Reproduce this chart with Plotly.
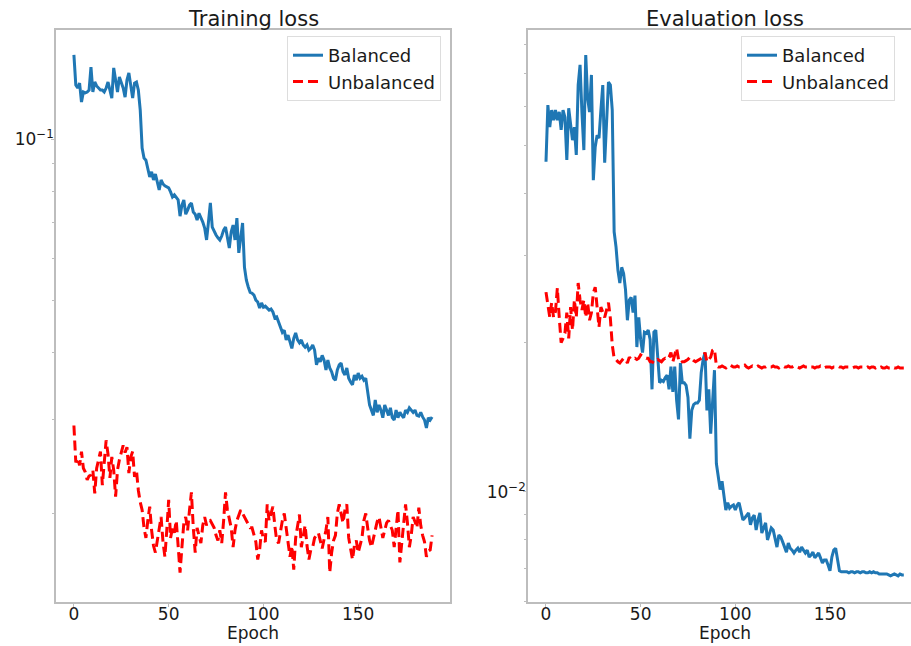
import plotly.graph_objects as go

epochs = list(range(190))

train_balanced = [
    0.1439, 0.1264, 0.1248, 0.1275, 0.1175, 0.1227, 0.1222, 0.1227, 0.1237, 0.1366,
    0.1227, 0.1281, 0.1259, 0.1248, 0.1237, 0.1237, 0.1227, 0.1248, 0.1281, 0.1237,
    0.1195, 0.1361, 0.1303, 0.1227, 0.1309, 0.1281, 0.1248, 0.1200, 0.1292, 0.1332,
    0.1259, 0.1195, 0.1275, 0.1281, 0.1237, 0.1135, 0.0964, 0.0923, 0.0915, 0.0885,
    0.0851, 0.0870, 0.0840, 0.0862, 0.0833, 0.0805, 0.0840, 0.0826, 0.0819, 0.0815,
    0.0812, 0.0798, 0.0781, 0.0788, 0.0778, 0.0771, 0.0719, 0.0754, 0.0771, 0.0725,
    0.0738, 0.0754, 0.0761, 0.0732, 0.0725, 0.0707, 0.0728, 0.0716, 0.0701, 0.0683,
    0.0649, 0.0701, 0.0761, 0.0686, 0.0672, 0.0663, 0.0655, 0.0649, 0.0660, 0.0677,
    0.0686, 0.0649, 0.0627, 0.0672, 0.0692, 0.0649, 0.0713, 0.0614, 0.0655, 0.0698,
    0.0577, 0.0546, 0.0530, 0.0518, 0.0516, 0.0512, 0.0501, 0.0497, 0.0484, 0.0495,
    0.0486, 0.0488, 0.0484, 0.0480, 0.0482, 0.0476, 0.0464, 0.0466, 0.0456, 0.0444,
    0.0436, 0.0440, 0.0422, 0.0431, 0.0418, 0.0407, 0.0425, 0.0435, 0.0422, 0.0417,
    0.0422, 0.0413, 0.0409, 0.0413, 0.0404, 0.0407, 0.0413, 0.0404, 0.0379, 0.0390,
    0.0384, 0.0395, 0.0387, 0.0371, 0.0387, 0.0374, 0.0368, 0.0358, 0.0355, 0.0371,
    0.0379, 0.0382, 0.0368, 0.0363, 0.0374, 0.0358, 0.0352, 0.0348, 0.0363, 0.0355,
    0.0366, 0.0358, 0.0361, 0.0355, 0.0358, 0.0340, 0.0319, 0.0312, 0.0305, 0.0326,
    0.0309, 0.0319, 0.0312, 0.0302, 0.0319, 0.0312, 0.0305, 0.0315, 0.0302, 0.0299,
    0.0312, 0.0302, 0.0309, 0.0305, 0.0302, 0.0312, 0.0309, 0.0315, 0.0312, 0.0309,
    0.0312, 0.0305, 0.0304, 0.0309, 0.0303, 0.0299, 0.0289, 0.0302, 0.0299, 0.0303,
]

train_unbalanced = [
    0.0292, 0.0249, 0.0254, 0.0246, 0.0261, 0.0243, 0.0239, 0.0231, 0.0235, 0.0236,
    0.0241, 0.0218, 0.0243, 0.0254, 0.0261, 0.0226, 0.0249, 0.0274, 0.0258, 0.0233,
    0.0255, 0.0241, 0.0215, 0.0241, 0.0252, 0.0261, 0.0268, 0.0260, 0.0266, 0.0238,
    0.0255, 0.0261, 0.0234, 0.0241, 0.0221, 0.0210, 0.0203, 0.0188, 0.0180, 0.0194,
    0.0206, 0.0186, 0.0174, 0.0169, 0.0178, 0.0184, 0.0197, 0.0177, 0.0166, 0.0186,
    0.0212, 0.0180, 0.0188, 0.0184, 0.0194, 0.0174, 0.0155, 0.0173, 0.0192, 0.0197,
    0.0186, 0.0203, 0.0219, 0.0188, 0.0169, 0.0188, 0.0182, 0.0176, 0.0190, 0.0197,
    0.0190, 0.0193, 0.0194, 0.0191, 0.0188, 0.0182, 0.0178, 0.0186, 0.0176, 0.0194,
    0.0219, 0.0203, 0.0194, 0.0188, 0.0173, 0.0186, 0.0194, 0.0199, 0.0203, 0.0200,
    0.0197, 0.0194, 0.0191, 0.0188, 0.0188, 0.0182, 0.0177, 0.0164, 0.0171, 0.0186,
    0.0179, 0.0177, 0.0208, 0.0194, 0.0200, 0.0206, 0.0190, 0.0178, 0.0176, 0.0186,
    0.0194, 0.0200, 0.0188, 0.0178, 0.0166, 0.0174, 0.0157, 0.0180, 0.0190, 0.0199,
    0.0173, 0.0182, 0.0190, 0.0174, 0.0164, 0.0171, 0.0173, 0.0180, 0.0182, 0.0184,
    0.0178, 0.0172, 0.0179, 0.0186, 0.0197, 0.0155, 0.0169, 0.0178, 0.0182, 0.0200,
    0.0208, 0.0199, 0.0192, 0.0203, 0.0208, 0.0180, 0.0172, 0.0164, 0.0174, 0.0178,
    0.0169, 0.0174, 0.0180, 0.0194, 0.0200, 0.0188, 0.0178, 0.0173, 0.0180, 0.0188,
    0.0193, 0.0197, 0.0188, 0.0180, 0.0186, 0.0192, 0.0194, 0.0190, 0.0186, 0.0173,
    0.0188, 0.0203, 0.0162, 0.0176, 0.0194, 0.0208, 0.0192, 0.0173, 0.0182, 0.0197,
    0.0193, 0.0188, 0.0205, 0.0190, 0.0182, 0.0177, 0.0166, 0.0170, 0.0171, 0.0182,
]

eval_balanced = [
    0.0464, 0.0604, 0.0545, 0.0590, 0.0563, 0.0590, 0.0563, 0.0585, 0.0538, 0.0590,
    0.0571, 0.0468, 0.0595, 0.0550, 0.0513, 0.0545, 0.0479, 0.0663, 0.0728, 0.0582,
    0.0490, 0.0762, 0.0624, 0.0585, 0.0695, 0.0426, 0.0497, 0.0525, 0.0518, 0.0590,
    0.0663, 0.0462, 0.0555, 0.0672, 0.0663, 0.0590, 0.0335, 0.0312, 0.0280, 0.0264,
    0.0284, 0.0276, 0.0256, 0.0222, 0.0244, 0.0247, 0.0230, 0.0249, 0.0196, 0.0225,
    0.0203, 0.0191, 0.0210, 0.0209, 0.0212, 0.0203, 0.0161, 0.0210, 0.0212, 0.0191,
    0.0166, 0.0168, 0.0167, 0.0170, 0.0172, 0.0161, 0.0179, 0.0159, 0.0179, 0.0153,
    0.0140, 0.0182, 0.0166, 0.0166, 0.0164, 0.0155, 0.0128, 0.0146, 0.0150, 0.0151,
    0.0151, 0.0153, 0.0174, 0.0185, 0.0191, 0.0146, 0.0161, 0.0131, 0.0155, 0.0176,
    0.0114, 0.0107, 0.0101, 0.0105, 0.00985, 0.00918, 0.00950, 0.00926, 0.00935, 0.00940,
    0.00918, 0.00940, 0.00950, 0.00918, 0.00877, 0.00885, 0.00897, 0.00906, 0.00857, 0.00885,
    0.00897, 0.00837, 0.00877, 0.00906, 0.00825, 0.00845, 0.00865, 0.00799, 0.00818, 0.00845,
    0.00837, 0.00799, 0.00773, 0.00818, 0.00810, 0.00792, 0.00773, 0.00755, 0.00788, 0.00769,
    0.00762, 0.00752, 0.00762, 0.00769, 0.00755, 0.00773, 0.00762, 0.00752, 0.00762, 0.00738,
    0.00745, 0.00755, 0.00735, 0.00745, 0.00752, 0.00735, 0.00718, 0.00728, 0.00728, 0.00711,
    0.00692, 0.00738, 0.00762, 0.00769, 0.00728, 0.00692, 0.00689, 0.00689, 0.00689, 0.00689,
    0.00686, 0.00689, 0.00689, 0.00686, 0.00689, 0.00689, 0.00686, 0.00689, 0.00689, 0.00686,
    0.00686, 0.00689, 0.00686, 0.00689, 0.00686, 0.00686, 0.00682, 0.00682, 0.00682, 0.00682,
    0.00682, 0.00679, 0.00676, 0.00679, 0.00682, 0.00679, 0.00676, 0.00682, 0.00679, 0.00679,
]

eval_unbalanced = [
    0.0253, 0.0236, 0.0225, 0.0241, 0.0225, 0.0231, 0.0258, 0.0225, 0.0200, 0.0204,
    0.0209, 0.0230, 0.0204, 0.0236, 0.0212, 0.0244, 0.0225, 0.0264, 0.0244, 0.0233,
    0.0244, 0.0225, 0.0241, 0.0222, 0.0230, 0.0252, 0.0259, 0.0236, 0.0215, 0.0236,
    0.0230, 0.0225, 0.0233, 0.0241, 0.0224, 0.0198, 0.0186, 0.0185, 0.0183, 0.0182,
    0.0184, 0.0186, 0.0185, 0.0182, 0.0187, 0.0185, 0.0185, 0.0186, 0.0185, 0.0186,
    0.0189, 0.0188, 0.0187, 0.0186, 0.0186, 0.0183, 0.0183, 0.0182, 0.0184, 0.0185,
    0.0184, 0.0183, 0.0185, 0.0186, 0.0185, 0.0187, 0.0191, 0.0183, 0.0189, 0.0195,
    0.0185, 0.0182, 0.0183, 0.0183, 0.0184, 0.0185, 0.0187, 0.0185, 0.0184, 0.0183,
    0.0184, 0.0185, 0.0186, 0.0187, 0.0191, 0.0183, 0.0185, 0.0187, 0.0193, 0.0194,
    0.01795, 0.01786, 0.01786, 0.01795, 0.01786, 0.01778, 0.01795, 0.01803, 0.01795, 0.01786,
    0.01786, 0.01795, 0.01786, 0.01786, 0.01795, 0.01803, 0.01786, 0.01778, 0.01786, 0.01795,
    0.01786, 0.01786, 0.01795, 0.01786, 0.01778, 0.01786, 0.01786, 0.01795, 0.01786, 0.01786,
    0.01795, 0.01786, 0.01786, 0.01778, 0.01786, 0.01795, 0.01786, 0.01786, 0.01795, 0.01786,
    0.01786, 0.01795, 0.01786, 0.01786, 0.01778, 0.01786, 0.01795, 0.01786, 0.01786, 0.01795,
    0.01786, 0.01786, 0.01778, 0.01786, 0.01786, 0.01795, 0.01786, 0.01778, 0.01786, 0.01786,
    0.01786, 0.01778, 0.01786, 0.01786, 0.01795, 0.01786, 0.01786, 0.01778, 0.01786, 0.01786,
    0.01786, 0.01786, 0.01778, 0.01786, 0.01786, 0.01778, 0.01786, 0.01786, 0.01786, 0.01778,
    0.01786, 0.01778, 0.01786, 0.01786, 0.01778, 0.01786, 0.01778, 0.01786, 0.01778, 0.01778,
    0.01786, 0.01778, 0.01778, 0.01786, 0.01778, 0.01778, 0.01786, 0.01778, 0.01778, 0.01778,
]

x_ticks = [0, 50, 100, 150]
left_minor = [0.02, 0.03, 0.04, 0.05, 0.06, 0.07, 0.08, 0.09]
right_minor = [0.006, 0.007, 0.008, 0.009, 0.02, 0.03, 0.04, 0.05, 0.06, 0.07, 0.08]

BLUE = "#1f77b4"
RED = "#ff0000"
SPINE = "#bdbdbd"
TXT = "#1a1a1a"
FONT = "DejaVu Sans"
W, H = 911, 646

fig = go.Figure()
fig.add_trace(go.Scatter(x=epochs, y=train_balanced, mode="lines", name="Balanced",
                         line=dict(color=BLUE, width=3), xaxis="x", yaxis="y", legend="legend"))
fig.add_trace(go.Scatter(x=epochs, y=train_unbalanced, mode="lines", name="Unbalanced",
                         line=dict(color=RED, width=3, dash="10px,5px"), xaxis="x", yaxis="y",
                         legend="legend"))
fig.add_trace(go.Scatter(x=epochs, y=eval_balanced, mode="lines", name="Balanced",
                         line=dict(color=BLUE, width=3), xaxis="x2", yaxis="y2", legend="legend2"))
fig.add_trace(go.Scatter(x=epochs, y=eval_unbalanced, mode="lines", name="Unbalanced",
                         line=dict(color=RED, width=3, dash="10px,5px"), xaxis="x2", yaxis="y2",
                         legend="legend2"))

ydom = [1 - 602 / H, 1 - 30 / H]

def xaxis_cfg(domain, rng):
    return dict(domain=domain, range=rng, tickmode="array", tickvals=x_ticks,
                showline=True, mirror=True, linecolor=SPINE, linewidth=1.5,
                ticks="outside", ticklen=3, tickcolor=SPINE, tickwidth=1,
                ticklabelstandoff=-7,
                tickfont=dict(size=17, color=TXT, family=FONT),
                showgrid=False, zeroline=False)

def yaxis_cfg(rng, anchor, major, label, minor_vals, mirror):
    return dict(type="log", domain=ydom, range=rng, anchor=anchor,
                tickmode="array", tickvals=[major], ticktext=[label],
                showline=True, mirror=mirror, linecolor=SPINE, linewidth=1.5,
                ticks="outside", ticklen=3, tickcolor=SPINE,
                ticklabelstandoff=-6,
                tickfont=dict(size=17, color=TXT, family=FONT),
                minor=dict(tickmode="array", tickvals=minor_vals, ticks="outside",
                           ticklen=2, tickcolor=SPINE, showgrid=False),
                showgrid=False, zeroline=False)

legend_common = dict(y=1 - 36 / H, yanchor="top", bgcolor="rgba(255,255,255,0.85)",
                     bordercolor="#dddddd", borderwidth=1,
                     font=dict(size=18, color=TXT, family=FONT))

fig.update_layout(
    width=W, height=H,
    margin=dict(l=0, r=0, t=0, b=0, autoexpand=False),
    paper_bgcolor="white", plot_bgcolor="white",
    font=dict(family=FONT, color=TXT),
    xaxis=xaxis_cfg([56 / W, 450 / W], [-9.45, 198.45]),
    xaxis2=xaxis_cfg([528 / W, 1.0], [-9.5, 192.8]),
    yaxis=yaxis_cfg([-1.8645, -0.7953], "x", 0.1, "10<sup>\u22121</sup>", left_minor, True),
    yaxis2=yaxis_cfg([-2.2228, -1.0673], "x2", 0.01, "10<sup>\u22122</sup>", right_minor, False),
    legend=dict(x=441 / W, xanchor="right", **legend_common),
    legend2=dict(x=741 / W, xanchor="left", **legend_common),
    annotations=[
        dict(text="Training loss", x=253 / W, y=1 - 30 / H, xref="paper", yref="paper",
             xanchor="center", yanchor="bottom", yshift=-3, showarrow=False,
             font=dict(size=21, color=TXT, family=FONT)),
        dict(text="Evaluation loss", x=725 / W, y=1 - 30 / H, xref="paper", yref="paper",
             xanchor="center", yanchor="bottom", yshift=-3, showarrow=False,
             font=dict(size=21, color=TXT, family=FONT)),
        dict(text="Epoch", x=253 / W, y=13 / H, xref="paper", yref="paper",
             xanchor="center", yanchor="middle", showarrow=False,
             font=dict(size=17, color=TXT, family=FONT)),
        dict(text="Epoch", x=725 / W, y=13 / H, xref="paper", yref="paper",
             xanchor="center", yanchor="middle", showarrow=False,
             font=dict(size=17, color=TXT, family=FONT)),
    ],
)

fig.write_html("out.html")
